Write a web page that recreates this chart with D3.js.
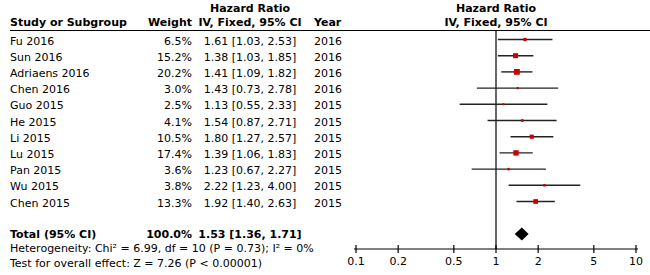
<!DOCTYPE html>
<html><head><meta charset="utf-8">
<script src="https://cdn.jsdelivr.net/npm/d3@7"></script>
<style>
html,body{margin:0;padding:0;background:#fff;}
svg text{font-family:"DejaVu Sans",sans-serif;font-size:11px;fill:#000;}
.b{font-weight:bold;}
</style></head>
<body><svg id="c" width="650" height="275"></svg>
<script>
const studies = ["Fu 2016","Sun 2016","Adriaens 2016","Chen 2016","Guo 2015","He 2015","Li 2015","Lu 2015","Pan 2015","Wu 2015","Chen 2015"];
const weights = [6.5,15.2,20.2,3.0,2.5,4.1,10.5,17.4,3.6,3.8,13.3];
const hr      = [1.61,1.38,1.41,1.43,1.13,1.54,1.80,1.39,1.23,2.22,1.92];
const lower   = [1.03,1.03,1.09,0.73,0.55,0.87,1.27,1.06,0.67,1.23,1.40];
const upper   = [2.53,1.85,1.82,2.78,2.33,2.71,2.57,1.83,2.27,4.00,2.63];
const years   = [2016,2016,2016,2016,2015,2015,2015,2015,2015,2015,2015];
const totalWeight = 100.0, totalHR = 1.53, totalLo = 1.36, totalHi = 1.71;
const axisTicks = [0.1,0.2,0.5,1,2,5,10];
const heterogeneity = "Heterogeneity: Chi\u00B2 = 6.99, df = 10 (P = 0.73); I\u00B2 = 0%";
const overall = "Test for overall effect: Z = 7.26 (P < 0.00001)";

const svg = d3.select("#c");
const x = d3.scaleLog().domain([0.1,10]).range([356,636]);
const y = d3.scaleLinear().domain([0,10]).range([39.5,201.5]);
const yTotal = 234, yAxis = 249;
const sz = d3.scaleSqrt().domain([0,20.2]).range([0,5.8]);
const fmt = v => v.toFixed(2);
const ci = (m,l,h) => `${fmt(m)} [${fmt(l)}, ${fmt(h)}]`;

// headers
svg.append("text").attr("class","b").attr("x",250).attr("y",12).attr("text-anchor","middle").text("Hazard Ratio");
svg.append("text").attr("class","b").attr("x",250).attr("y",26).attr("text-anchor","middle").text("IV, Fixed, 95% CI");
svg.append("text").attr("class","b").attr("x",10).attr("y",26).text("Study or Subgroup");
svg.append("text").attr("class","b").attr("x",192).attr("y",26).attr("text-anchor","end").text("Weight");
svg.append("text").attr("class","b").attr("x",314).attr("y",26).text("Year");
svg.append("text").attr("class","b").attr("x",x(1)).attr("y",12).attr("text-anchor","middle").text("Hazard Ratio");
svg.append("text").attr("class","b").attr("x",x(1)).attr("y",26).attr("text-anchor","middle").text("IV, Fixed, 95% CI");
svg.append("line").attr("x1",10).attr("x2",650).attr("y1",30.5).attr("y2",30.5).attr("stroke","#000").attr("stroke-width",1);

// vertical line of no effect
svg.append("line").attr("x1",x(1)).attr("x2",x(1)).attr("y1",30.5).attr("y2",yAxis).attr("stroke","#000").attr("stroke-width",1.2);

const idx = d3.range(studies.length);
const rows = svg.append("g");
rows.selectAll("text.name").data(idx).join("text").attr("x",10).attr("y",i=>y(i)+5).text(i=>studies[i]);
rows.selectAll("text.w").data(idx).join("text").attr("x",192).attr("y",i=>y(i)+5).attr("text-anchor","end").text(i=>weights[i].toFixed(1)+"%");
rows.selectAll("text.ci").data(idx).join("text").attr("x",250).attr("y",i=>y(i)+5).attr("text-anchor","middle").text(i=>ci(hr[i],lower[i],upper[i]));
rows.selectAll("text.yr").data(idx).join("text").attr("x",314).attr("y",i=>y(i)+5).text(i=>years[i]);

rows.selectAll("line.ci").data(idx).join("line")
  .attr("x1",i=>x(lower[i])).attr("x2",i=>x(upper[i]))
  .attr("y1",i=>y(i)).attr("y2",i=>y(i)).attr("stroke","#222").attr("stroke-width",1.4);
rows.selectAll("rect").data(idx).join("rect")
  .attr("x",i=>x(hr[i])-sz(weights[i])/2).attr("y",i=>y(i)-sz(weights[i])/2)
  .attr("width",i=>sz(weights[i])).attr("height",i=>sz(weights[i])).attr("fill","#cc0000");

// total
svg.append("text").attr("class","b").attr("x",10).attr("y",yTotal+3.5).text("Total (95% CI)");
svg.append("text").attr("class","b").attr("x",192).attr("y",yTotal+3.5).attr("text-anchor","end").text(totalWeight.toFixed(1)+"%");
svg.append("text").attr("class","b").attr("x",250).attr("y",yTotal+3.5).attr("text-anchor","middle").text(ci(totalHR,totalLo,totalHi));
svg.append("path").attr("fill","#000")
  .attr("d",`M${x(totalLo)},${yTotal}L${x(totalHR)},${yTotal-6.5}L${x(totalHi)},${yTotal}L${x(totalHR)},${yTotal+6.5}Z`);
svg.append("text").attr("x",10).attr("y",252).text(heterogeneity);
svg.append("text").attr("x",10).attr("y",267).text(overall);

// axis
const ax = svg.append("g");
ax.append("line").attr("x1",x(0.1)-2).attr("x2",x(10)+2).attr("y1",yAxis).attr("y2",yAxis).attr("stroke","#000").attr("stroke-width",1.2);
ax.selectAll("line.t").data(axisTicks).join("line")
  .attr("x1",d=>x(d)).attr("x2",d=>x(d)).attr("y1",yAxis-4).attr("y2",yAxis+4).attr("stroke","#000").attr("stroke-width",1.2);
ax.selectAll("text").data(axisTicks).join("text")
  .attr("x",d=>x(d)).attr("y",264.5).attr("text-anchor","middle").text(d=>String(d));
</script></body></html>
